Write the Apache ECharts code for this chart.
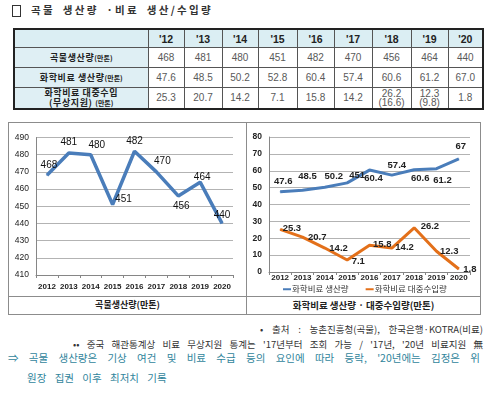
<!DOCTYPE html>
<html><head><meta charset="utf-8">
<script src="https://cdn.jsdelivr.net/npm/echarts@6/dist/echarts.min.js"></script>
<style>
html,body{margin:0;padding:0;background:#fff;}
body{width:500px;height:395px;position:relative;overflow:hidden;font-family:"Noto Sans CJK KR","Noto Sans",sans-serif;}
.abs{position:absolute;}
#sq{left:12px;top:5px;width:7px;height:10px;border:1px solid #333;}
#title{left:31px;top:1px;width:182px;font-size:10.5px;font-weight:700;color:#333;letter-spacing:2.3px;text-align:justify;text-align-last:justify;line-height:18px;}
#tbl{position:absolute;left:13px;top:28px;width:469px;border-collapse:collapse;table-layout:fixed;border:2px solid #222;}
#tbl td{border:1px solid #555;padding:0;text-align:center;font-family:"Liberation Sans",Arial,sans-serif;font-size:10px;color:#595959;line-height:10px;overflow:hidden;}
#tbl tr.h td{height:17px;background:#dbeef3;font-weight:bold;color:#222;font-size:10.5px;}
#tbl tr.r td{height:19px;}
#tbl tr.r3 td{height:19px;line-height:9.5px;}
#tbl td.lab{background:#dfeff4;font-family:"Noto Sans CJK KR",sans-serif;font-weight:bold;color:#222;font-size:9px;letter-spacing:0.6px;}
#tbl small{font-size:7px;letter-spacing:0;}
#box{left:8px;top:122px;width:471px;height:191px;border:1px solid #8c8c8c;}
#vdiv{left:246px;top:122px;width:1px;height:193px;background:#8c8c8c;}
#hdiv{left:8px;top:296px;width:472px;height:1px;background:#8c8c8c;}
.cap{top:296px;height:18px;line-height:18px;text-align:center;font-weight:bold;color:#222;}
#cap1{left:9px;width:237px;font-size:9px;}
#cap2{left:247px;width:233px;font-size:9.5px;}
.fn{font-size:9.5px;color:#333;line-height:13px;text-align:justify;text-align-last:justify;white-space:normal;}
#fn1{left:260px;top:323px;width:223px;}
#fn2{left:73px;top:338px;width:410px;}
.arr{font-size:10.5px;color:#31859c;line-height:14px;}
#ar1{left:8px;top:351px;width:472px;text-align:justify;text-align-last:justify;word-spacing:3px;}
#ar2{left:27px;top:371px;width:300px;word-spacing:6px;}
#chart{position:absolute;left:0;top:0;width:500px;height:395px;z-index:2;pointer-events:none;}
</style></head>
<body>
<div id="sq" class="abs"></div>
<div id="title" class="abs">곡물 생산량 ·비료 생산/수입량</div>
<table id="tbl"></table>
<div id="box" class="abs"></div>
<div id="vdiv" class="abs"></div>
<div id="hdiv" class="abs"></div>
<div id="cap1" class="abs cap">곡물생산량(만톤)</div>
<div id="cap2" class="abs cap">화학비료 생산량 · 대중수입량(만톤)</div>
<div id="fn1" class="abs fn">• 출처 : 농촌진흥청(곡물), 한국은행·KOTRA(비료)</div>
<div id="fn2" class="abs fn">•• 중국 해관통계상 비료 무상지원 통계는 '17년부터 조회 가능 / '17년, '20년 비료지원 無</div>
<div id="ar1" class="abs arr">⇒ 곡물 생산량은 기상 여건 및 비료 수급 등의 요인에 따라 등락, '20년에는 김정은 위</div>
<div id="ar2" class="abs arr">원장 집권 이후 최저치 기록</div>
<div id="chart"></div>
<script>
// ---- data ----
const years = ['2012','2013','2014','2015','2016','2017','2018','2019','2020'];
const yearHeads = ["'12","'13","'14","'15","'16","'17","'18","'19","'20"];
const grainProd = [468,481,480,451,482,470,456,464,440];
const fertProd = [47.6,48.5,50.2,52.8,60.4,57.4,60.6,61.2,67.0];
const fertImport = [25.3,20.7,14.2,7.1,15.8,14.2,26.2,12.3,1.8];
const fertAid = [null,null,null,null,null,null,16.6,9.8,null];
const rowLabels = ['곡물생산량','화학비료 생산량','화학비료 대중수입'];
const seriesNames = ['화학비료 생산량','화학비료 대중수입량'];
const grainTicks = [410,490,10];
const fertTicks = [0,80,10];
// label text as printed in the source chart (2015 label reads "451")
const fertProdLabelText = [null,null,null,'451',null,null,null,null,null];

// ---- label placement (style only) ----
const grainLblPos = [['top',[2,0]],['top',[0,0]],['top',[6,1]],['right',[0,-5],2],['top',[0,0]],['top',[6,0]],['bottom',[3,0]],['top',[2,6]],['top',[0,2]]];
const prodLblPos = [['top',[3,0]],['top',[5,-3]],['top',[9,0]],['top',[10,3]],['bottom',[4,-2]],['top',[5,1]],['bottom',[6,-2]],['bottom',[6,1]],['top',[2,-2]]];
const impLblPos = [['right',[0,-1],2],['right',[0,0],5],['right',[0,0],4],['right',[0,1],4],['right',[0,-1],3],['right',[0,-1],3],['right',[0,-1],6],['right',[0,0],3],['right',[0,0],4]];

// ---- table ----
(function(){
  const colW = [134,36,38,36,39,37,38,39,37,35];
  let h = '<colgroup>' + colW.map(w=>'<col style="width:'+w+'px">').join('') + '</colgroup>';
  h += '<tr class="h"><td class="lab"></td>' + yearHeads.map(x=>'<td>'+x+'</td>').join('') + '</tr>';
  h += '<tr class="r"><td class="lab">'+rowLabels[0]+'<small>(만톤)</small></td>' + grainProd.map(v=>'<td>'+v+'</td>').join('') + '</tr>';
  h += '<tr class="r"><td class="lab">'+rowLabels[1]+'<small>(만톤)</small></td>' + fertProd.map(v=>'<td>'+v.toFixed(1)+'</td>').join('') + '</tr>';
  h += '<tr class="r3"><td class="lab">'+rowLabels[2]+'<br>(무상지원) <small>(만톤)</small></td>' +
       fertImport.map((v,i)=>'<td>'+v.toFixed(1)+(fertAid[i]!=null?'<br>('+fertAid[i].toFixed(1)+')':'')+'</td>').join('') + '</tr>';
  document.getElementById('tbl').innerHTML = h;
})();

// ---- chart ----
const NARROW = '"Liberation Sans Narrow","Liberation Sans",Arial,sans-serif';
function items(vals, pos, texts){
  return vals.map((v,i)=>({
    value: v,
    label: {position: pos[i][0], offset: pos[i][1], distance: pos[i][2]!=null?pos[i][2]:5,
            formatter: (texts && texts[i]) ? texts[i] : String(v)}
  }));
}
const axisGray = '#868686';
function xAx(idx, margin){
  return {type:'category', gridIndex:idx, data:years, boundaryGap:true,
    axisLine:{show:true,lineStyle:{color:axisGray,width:1}},
    axisTick:{show:true,length:3,lineStyle:{color:axisGray}},
    axisLabel:{fontFamily:NARROW,fontWeight:'bold',fontSize:8,color:'#222',margin:margin,interval:0},
    splitLine:{show:false}};
}
function yAx(idx, t, bold){
  return {type:'value', gridIndex:idx, min:t[0], max:t[1], interval:t[2],
    axisLine:{show:true,lineStyle:{color:axisGray,width:1}},
    axisTick:{show:false},
    axisLabel:{fontFamily:NARROW,fontSize:8.5,fontWeight:bold?'bold':'normal',color:'#222',margin:7},
    splitLine:{show:true,lineStyle:{color:'#b3b3b3',width:1}}};
}
const BLUE = '#4a7dba', ORANGE = '#e3701a';
const chart = echarts.init(document.getElementById('chart'), null, {renderer:'canvas', width:500, height:395});
chart.setOption({
  animation:false,
  backgroundColor:'transparent',
  grid:[{left:36,top:137.5,width:197,height:137.5},{left:269,top:137,width:201,height:135}],
  xAxis:[xAx(0,8), xAx(1,2)],
  yAxis:[yAx(0,grainTicks,false), yAx(1,fertTicks,true)],
  legend:{top:283,left:281,itemWidth:8,itemHeight:2,itemGap:17,icon:'rect',padding:[2,2,2,2],
    textStyle:{fontSize:8.5,color:'#333',fontFamily:'"Noto Sans CJK KR",sans-serif',padding:[0,0,0,-4]},
    data:seriesNames},
  series:[
    {type:'line',name:'곡물생산량',xAxisIndex:0,yAxisIndex:0,data:items(grainProd,grainLblPos),
      symbol:'circle',symbolSize:1,lineStyle:{color:BLUE,width:3.5},itemStyle:{color:BLUE},
      label:{show:true,fontFamily:NARROW,fontSize:10,color:'#111'}},
    {type:'line',name:seriesNames[0],xAxisIndex:1,yAxisIndex:1,data:items(fertProd,prodLblPos,fertProdLabelText),
      symbol:'circle',symbolSize:1,lineStyle:{color:BLUE,width:3},itemStyle:{color:BLUE},
      label:{show:true,fontFamily:NARROW,fontSize:9.5,fontWeight:'bold',color:'#222'}},
    {type:'line',name:seriesNames[1],xAxisIndex:1,yAxisIndex:1,data:items(fertImport,impLblPos),
      symbol:'circle',symbolSize:1,lineStyle:{color:ORANGE,width:3},itemStyle:{color:ORANGE},
      label:{show:true,fontFamily:NARROW,fontSize:9.5,fontWeight:'bold',color:'#222'}}
  ]
});
</script>
</body></html>
